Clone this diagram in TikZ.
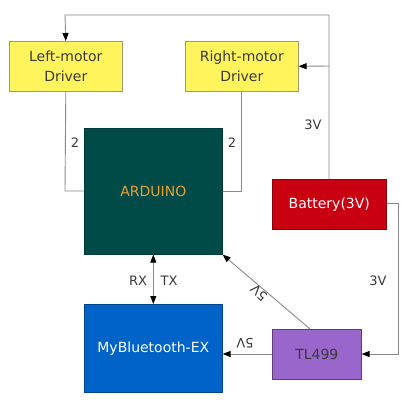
\documentclass[tikz,border=0pt]{standalone}
\usepackage{fontspec}
\setmainfont{DejaVu Sans}
\usetikzlibrary{arrows.meta}
\definecolor{ybox}{HTML}{FFF45C}
\definecolor{yborder}{HTML}{A09A70}
\definecolor{ardu}{HTML}{004A47}
\definecolor{arduText}{HTML}{E8A032}
\definecolor{batt}{HTML}{C8000F}
\definecolor{tl}{HTML}{9966CC}
\definecolor{bt}{HTML}{0063C8}
\definecolor{wire}{HTML}{8A8A8A}
\definecolor{lbl}{HTML}{3A3A3A}
\tikzset{
  box/.style={line width=0.6pt, align=center, inner sep=0pt, anchor=north west, font=\fontsize{14}{20}\selectfont},
  wireline/.style={draw=wire, line width=0.9pt},
  tip/.style={-{Triangle[length=8pt,width=6pt,fill=black,color=black]}},
  lab/.style={text=lbl, font=\fontsize{13}{15}\selectfont, inner sep=0pt}
}
\begin{document}
\begin{tikzpicture}[x=1pt,y=-1pt]
\useasboundingbox (0,0) rectangle (420,407);
\fill[white] (0,0) rectangle (420,407);
% boxes
\node[box, fill=ybox, draw=yborder, minimum width=113pt, minimum height=50pt, text=lbl] (left) at (9,41) {Left-motor\\Driver};
\node[box, fill=ybox, draw=yborder, minimum width=113pt, minimum height=50pt, text=lbl] (right) at (185,41) {Right-motor\\Driver};
\node[box, fill=ardu, draw=ardu!80!black, minimum width=138pt, minimum height=126pt, text=arduText] (ard) at (84,128) {ARDUINO};
\node[box, fill=batt, draw=batt!70!black, minimum width=114pt, minimum height=50pt, text=white] (bat) at (272,179) {Battery(3V)};
\node[box, fill=tl, draw=tl!60!black, minimum width=89pt, minimum height=50pt, text=lbl] (tl) at (272,329) {TL499};
\node[box, fill=bt, draw=bt!70!black, minimum width=138pt, minimum height=88pt, text=white] (bt) at (84,304) {MyBluetooth-EX};
% coordinates
\coordinate (topL) at (65,15);
\coordinate (topR) at (329,15);
\coordinate (midR) at (329,66);
\coordinate (batTop) at (329,179);
\coordinate (lDown) at (65,191);
\coordinate (rDown) at (241,191);
\coordinate (bR1) at (398,203);
\coordinate (bR2) at (398,354);
\coordinate (tlTop) at (310,329);
% wires
\draw[wireline, tip] (batTop) -- (topR) -- (topL) -- (left.north);
\draw[wireline, tip] (midR) -- (right.east);
\draw[wireline] (left.south) -- (lDown) -- (ard.west |- lDown);
\draw[wireline] (right.south -| rDown) -- (rDown) -- (ard.east |- rDown);
\draw[wireline, tip] (bat.east |- bR1) -- (bR1) -- (bR2) -- (tl.east |- bR2);
\draw[wireline, tip] (tlTop) -- (ard.south east);
\draw[wireline, tip] (tl.west |- bR2) -- (bt.east |- bR2);
\draw[wireline, {Triangle[length=8pt,width=6pt,fill=black,color=black]}-{Triangle[length=8pt,width=6pt,fill=black,color=black]}] (ard.south) -- (bt.north);
% labels
\node[lab] (l2a) at (75,143) {2};
\node[lab] (l2b) at (232,143) {2};
\node[lab] (v3a) at (313,125) {3V};
\node[lab] (v3b) at (378,281) {3V};
\node[lab] (rx) at (138,281) {RX};
\node[lab] (tx) at (169,281) {TX};
\node[lab, rotate=138] (v5a) at (259,293) {5V};
\node[lab, rotate=180] (v5b) at (245,343) {5V};
\end{tikzpicture}
\end{document}
